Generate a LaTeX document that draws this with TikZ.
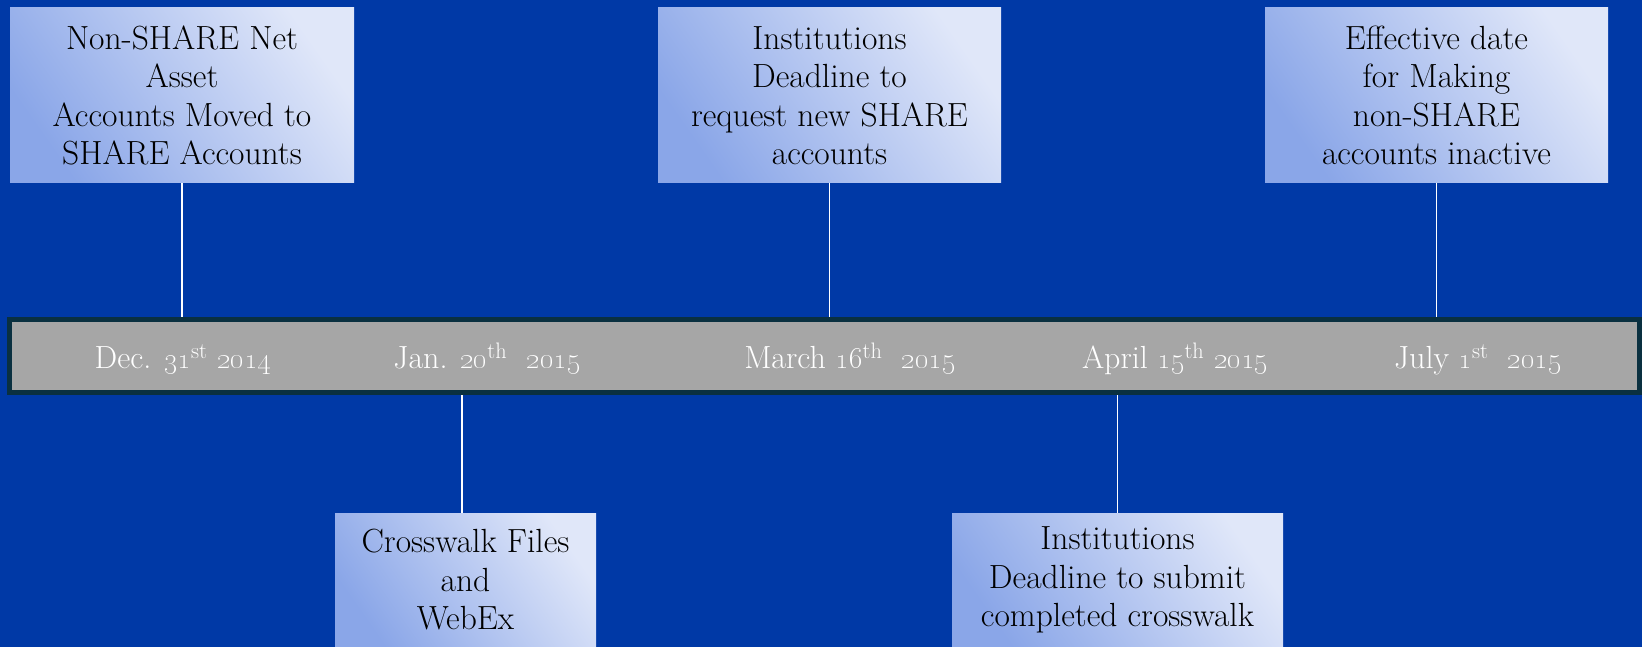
\documentclass[tikz,border=0pt]{standalone}
\definecolor{bg}{RGB}{0,57,166}
\definecolor{barfill}{RGB}{166,166,166}
\definecolor{barline}{RGB}{10,48,64}
\definecolor{boxdark}{RGB}{138,166,232}
\definecolor{boxlight}{RGB}{224,231,249}
\begin{document}
\begin{tikzpicture}[x=1pt,y=-1pt,
  evbox/.style={rectangle, inner sep=0pt, outer sep=0pt, left color=boxdark, right color=boxlight, shading angle=125,
    align=center, text=black, font=\fontsize{33.5}{38.5}\selectfont},
  bar/.style={rectangle, inner sep=0pt, fill=barfill, draw=barline, line width=5pt},
  datelbl/.style={anchor=base, text=white, inner sep=0pt, font=\fontsize{32}{36}\selectfont},
  tick/.style={draw=white, line width=1.8pt}]
\fill[bg] (0,0) rectangle (1642,647);
\useasboundingbox (0,0) rectangle (1642,647);
% timeline bar
\node[bar, minimum width=1630pt, minimum height=73pt] (bar) at (824.5,356) {};
% event boxes
\node[evbox, minimum width=344pt, minimum height=175pt] (b1) at (182,95.5)
  {Non-SHARE Net\\Asset\\Accounts Moved to\\SHARE Accounts};
\node[evbox, minimum width=261pt, minimum height=134pt] (b2) at (465.5,580)
  {Crosswalk Files\\and\\WebEx};
\node[evbox, minimum width=343pt, minimum height=175pt] (b3) at (829.5,95.5)
  {Institutions\\Deadline to\\request new SHARE\\accounts};
\node[evbox, minimum width=331pt, minimum height=134pt] (b4) at (1117.5,580)
  {Institutions\\Deadline to submit\\completed crosswalk};
\node[evbox, minimum width=343pt, minimum height=175pt] (b5) at (1436.5,95.5)
  {Effective date\\for Making\\non-SHARE\\accounts inactive};
% dates
\node[datelbl] (d1) at (183,368) {Dec. \oldstylenums{31}\textsuperscript{st} \oldstylenums{2014}};
\node[datelbl] (d2) at (487,368) {Jan. \oldstylenums{20}\textsuperscript{th}\ \ \oldstylenums{2015}};
\node[datelbl] (d3) at (850,368) {March \oldstylenums{16}\textsuperscript{th}\ \ \oldstylenums{2015}};
\node[datelbl] (d4) at (1175,368) {April \oldstylenums{15}\textsuperscript{th} \oldstylenums{2015}};
\node[datelbl] (d5) at (1478,368) {July \oldstylenums{1}\textsuperscript{st}\ \ \oldstylenums{2015}};
% connectors
\draw[tick] (b1.south) -- (b1.south |- bar.north);
\draw[tick] (b3.south) -- (b3.south |- bar.north);
\draw[tick] (b5.south) -- (b5.south |- bar.north);
\draw[tick] ([xshift=-3.5pt]b2.north) -- ([xshift=-3.5pt]b2.north |- bar.south);
\draw[tick] (b4.north) -- (b4.north |- bar.south);
\end{tikzpicture}
\end{document}
